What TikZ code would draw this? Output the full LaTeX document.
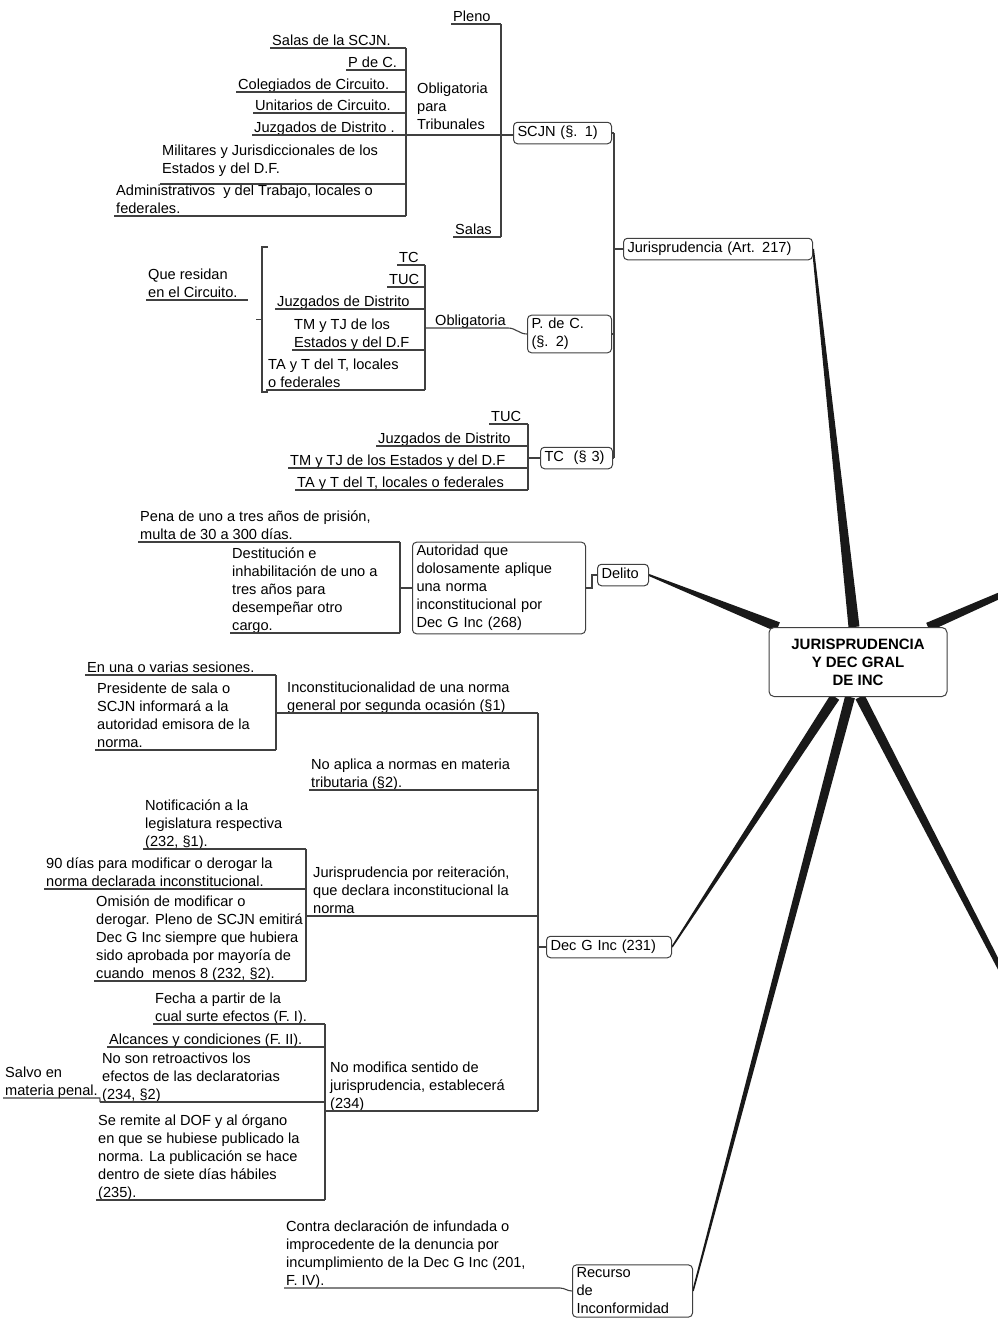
\documentclass[tikz,border=0pt]{standalone}
\usepackage{fontspec}
\setmainfont{Liberation Sans}
\usetikzlibrary{calc,backgrounds}

\newcommand{\mapfont}{\fontsize{14.6}{18}\selectfont}
\newcommand{\branch}[4]{%
  \fill[branchline] ($(#1)!#3!90:(#2)$) -- ($(#2)!#4!-90:(#1)$) -- ($(#2)!#4!90:(#1)$) -- ($(#1)!#3!-90:(#2)$) -- cycle;}

\tikzset{
  topic/.style={anchor=south west, align=left, inner xsep=2pt, inner ysep=0pt, text depth=2.5pt, font=\mapfont},
  sbox/.style={draw=black!75, line width=1pt, rounded corners=4pt, fill=white, anchor=west, align=left, inner xsep=4pt, inner ysep=3.5pt, text height=11pt, text depth=3.5pt, font=\mapfont},
  mbox/.style={draw=black!75, line width=1pt, rounded corners=4pt, fill=white, anchor=west, align=left, inner xsep=4pt, inner ysep=3pt, font=\mapfont},
  root/.style={draw=black!75, line width=1pt, rounded corners=5pt, fill=white, align=center, minimum width=178pt, minimum height=69pt, font=\fontsize{15}{18}\selectfont\bfseries},
  link/.style={draw=black!75, line width=1.1pt},
  branchline/.style={fill=black!90},
}

\begin{document}
\begin{tikzpicture}[x=1pt, y=-1pt]
\useasboundingbox (0,0) rectangle (997,1320);

\node[root]						(root)		at (858,662)	{JURISPRUDENCIA\\Y DEC GRAL\\DE INC};

\node[sbox, text width=181pt]	(jur)		at (623,249)	{Jurisprudencia (Art. 217)};
\node[sbox, text width=90pt]	(scjn)		at (513,133)	{SCJN (§. 1)};
\node[mbox, text width=76pt]	(pdc)		at (527,334)	{P. de C.\\(§. 2)};
\node[sbox, text width=64pt]	(tc)		at (540,458)	{TC~~(§ 3)};
\node[mbox, text width=165pt]	(autor)		at (412,588)	{Autoridad que\\dolosamente aplique\\una norma\\inconstitucional por\\Dec G Inc (268)};
\node[sbox, text width=43pt]	(delito)	at (597,575)	{Delito};
\node[sbox, text width=117pt]	(dec)		at (546,947)	{Dec G Inc (231)};
\node[mbox, text width=112pt]	(recur)		at (572,1291)	{Recurso\\de\\Inconformidad};

\coordinate (brA) at (406,0);
\coordinate (brB) at (501,0);
\coordinate (brC) at (425,0);
\coordinate (brD) at (528,0);
\coordinate (brE) at (614,0);
\coordinate (brF) at (400,0);
\coordinate (brH) at (538,0);
\coordinate (brI) at (276,0);
\coordinate (brJ) at (306,0);
\coordinate (brK) at (325,0);

% SCJN
\node[topic] (pleno)	at (451,24)		{Pleno};
\node[topic] (salassc)	at (270,48)		{Salas de la SCJN.};
\node[topic] (pdec)		at (346,70)		{P de C.};
\node[topic] (coleg)	at (236,92)		{Colegiados de Circuito.};
\node[topic] (unit)		at (253,113)	{Unitarios de Circuito.};
\node[topic] (juzg)		at (252,135)	{Juzgados de Distrito .};
\node[topic, text depth=10pt] (milit)	at (160,184)	{Militares y Jurisdiccionales de los\\Estados y del D.F.};
\node[topic] (admin)	at (114,216)	{Administrativos~~y del Trabajo, locales o\\federales.};
\node[topic, text depth=5pt] (oblig)	at (415,135)	{Obligatoria\\para\\Tribunales};
\node[topic] (salas)	at (453,237)	{Salas};

\foreach \n in {salassc,pdec,coleg,unit,juzg,milit,admin}
	\draw[link] (\n.south west) -- (\n.south west -| brA);
\draw[link] (salassc.south -| brA) -- (admin.south -| brA);
\draw[link] (oblig.south -| brA) -- (oblig.south -| brB);
\foreach \n in {pleno,salas}
	\draw[link] (\n.south west) -- (\n.south west -| brB);
\draw[link] (pleno.south -| brB) -- (salas.south -| brB);
\draw[link] (oblig.south -| brB) -- (scjn.west |- oblig.south);

% P. de C.
\node[topic] (tc1)		at (397,265)	{TC};
\node[topic] (tuc1)		at (387,287)	{TUC};
\node[topic] (juzg2)	at (275,309)	{Juzgados de Distrito};
\node[topic] (tmtj1)	at (292,350)	{TM y TJ de los\\Estados y del D.F};
\node[topic] (tayt1)	at (266,390)	{TA y T del T, locales\\o federales};
\node[topic] (oblig2)	at (433,328)	{Obligatoria};
\node[topic] (resid)	at (146,300)	{Que residan\\en el Circuito.};

\foreach \n in {tc1,tuc1,juzg2,tmtj1,tayt1}
	\draw[link] (\n.south west) -- (\n.south west -| brC);
\draw[link] (tc1.south -| brC) -- (tayt1.south -| brC);
\draw[link] (oblig2.south -| brC) -- (oblig2.south east) to[out=0, in=180] (pdc.west);
\draw[link] (resid.south west) -- ([xshift=8pt]resid.south east);
\coordinate (grpT) at (268,247);
\coordinate (grpB) at (268,392);
\draw[link] (grpT) -- ++(-6,0) |- (grpB);
\draw[link] ([xshift=-6pt]$(grpT)!.5!(grpB)$) -- ++(-6,0);

% TC
\node[topic] (tuc2)		at (489,424)	{TUC};
\node[topic] (juzg3)	at (376,446)	{Juzgados de Distrito};
\node[topic] (tmtj2)	at (288,468)	{TM y TJ de los Estados y del D.F};
\node[topic] (tayt2)	at (295,490)	{TA y T del T, locales o federales};

\foreach \n in {tuc2,juzg3,tmtj2,tayt2}
	\draw[link] (\n.south west) -- (\n.south west -| brD);
\draw[link] (tuc2.south -| brD) -- (tayt2.south -| brD);
\draw[link] (tc.west -| brD) -- (tc.west);

\foreach \n in {scjn,pdc,tc}
	\draw[link] (\n.east) -- (\n.east -| brE);
\draw[link] (scjn.east -| brE) -- (tc.east -| brE);
\draw[link] (jur.west -| brE) -- (jur.west);

% Delito
\node[topic] (pena)		at (138,542)	{Pena de uno a tres años de prisión,\\multa de 30 a 300 días.};
\node[topic] (destit)	at (230,633)	{Destitución e\\inhabilitación de uno a\\tres años para\\desempeñar otro\\cargo.};

\foreach \n in {pena,destit}
	\draw[link] (\n.south west) -- (\n.south west -| brF);
\draw[link] (pena.south -| brF) -- (destit.south -| brF);
\draw[link] (autor.west -| brF) -- (autor.west);
\draw[link] (autor.east) -- ++(6,0) |- (delito.west);

% Dec G Inc
\node[topic] (incon)	at (285,713)	{Inconstitucionalidad de una norma\\general por segunda ocasión (§1)};
\node[topic] (noapl)	at (309,790)	{No aplica a normas en materia\\tributaria (§2).};
\node[topic] (jreit)	at (311,916)	{Jurisprudencia por reiteración,\\que declara inconstitucional la\\norma};
\node[topic] (nomod)	at (328,1111)	{No modifica sentido de\\jurisprudencia, establecerá\\(234)};

\node[topic] (sesion)	at (85,675)		{En una o varias sesiones.};
\node[topic] (presi)	at (95,750)		{Presidente de sala o\\SCJN informará a la\\autoridad emisora de la\\norma.};
\node[topic] (notif)	at (143,849)	{Notificación a la\\legislatura respectiva\\(232, §1).};
\node[topic] (noventa)	at (44,889)		{90 días para modificar o derogar la\\norma declarada inconstitucional.};
\node[topic] (omis)		at (94,981)		{Omisión de modificar o\\derogar. Pleno de SCJN emitirá\\Dec G Inc siempre que hubiera\\sido aprobada por mayoría de\\cuando~~menos 8 (232, §2).};
\node[topic] (fecha)	at (153,1024)	{Fecha a partir de la\\cual surte efectos (F. I).};
\node[topic] (alcan)	at (107,1047)	{Alcances y condiciones (F. II).};
\node[topic] (noret)	at (100,1102)	{No son retroactivos los\\efectos de las declaratorias\\(234, §2)};
\node[topic] (salvo)	at (3,1098)		{Salvo en\\materia penal.};
\node[topic] (remit)	at (96,1200)	{Se remite al DOF y al órgano\\en que se hubiese publicado la\\norma. La publicación se hace\\dentro de siete días hábiles\\(235).};

\draw[link] (incon.south -| brI) -- (incon.south -| brH);
\draw[link] (noapl.south west) -- (noapl.south west -| brH);
\draw[link] (jreit.south -| brJ) -- (jreit.south -| brH);
\draw[link] (nomod.south -| brK) -- (nomod.south -| brH);
\draw[link] (incon.south -| brH) -- (nomod.south -| brH);
\draw[link] (dec.west -| brH) -- (dec.west);

\foreach \n in {sesion,presi}
	\draw[link] (\n.south west) -- (\n.south west -| brI);
\draw[link] (sesion.south -| brI) -- (presi.south -| brI);
\foreach \n in {notif,noventa,omis}
	\draw[link] (\n.south west) -- (\n.south west -| brJ);
\draw[link] (notif.south -| brJ) -- (omis.south -| brJ);
\foreach \n in {fecha,alcan,noret,remit}
	\draw[link] (\n.south west) -- (\n.south west -| brK);
\draw[link] (fecha.south -| brK) -- (remit.south -| brK);
\draw[link] (salvo.south west) -- (salvo.south east) -- (noret.south west);

% Recurso
\node[topic] (contra)	at (284,1288)	{Contra declaración de infundada o\\improcedente de la denuncia por\\incumplimiento de la Dec G Inc (201,\\F. IV).};
\draw[link] (contra.south west) -- ([xshift=-12pt]recur.west |- contra.south) to[out=0, in=180] (recur.west);

% branches
\coordinate (rt1) at ([xshift=-4pt]root.north);
\coordinate (rt2) at ([xshift=-80pt]root.north);
\coordinate (rt3) at ([xshift=70pt]root.north);
\coordinate (rb1) at ([xshift=-23pt]root.south);
\coordinate (rb2) at ([xshift=-8pt]root.south);
\coordinate (rb3) at ([xshift=2pt]root.south);
\coordinate (east1) at (1010,591);
\coordinate (east2) at (1010,987);
\begin{scope}[on background layer]
	\branch{rt1}{jur.east}{5.5pt}{1pt}
	\branch{rt2}{delito.east}{5pt}{1pt}
	\branch{rt3}{east1}{4.5pt}{3pt}
	\branch{rb1}{dec.east}{5pt}{0.8pt}
	\branch{rb2}{recur.east}{5pt}{0.8pt}
	\branch{rb3}{east2}{5pt}{2.5pt}
\end{scope}
\end{tikzpicture}
\end{document}
